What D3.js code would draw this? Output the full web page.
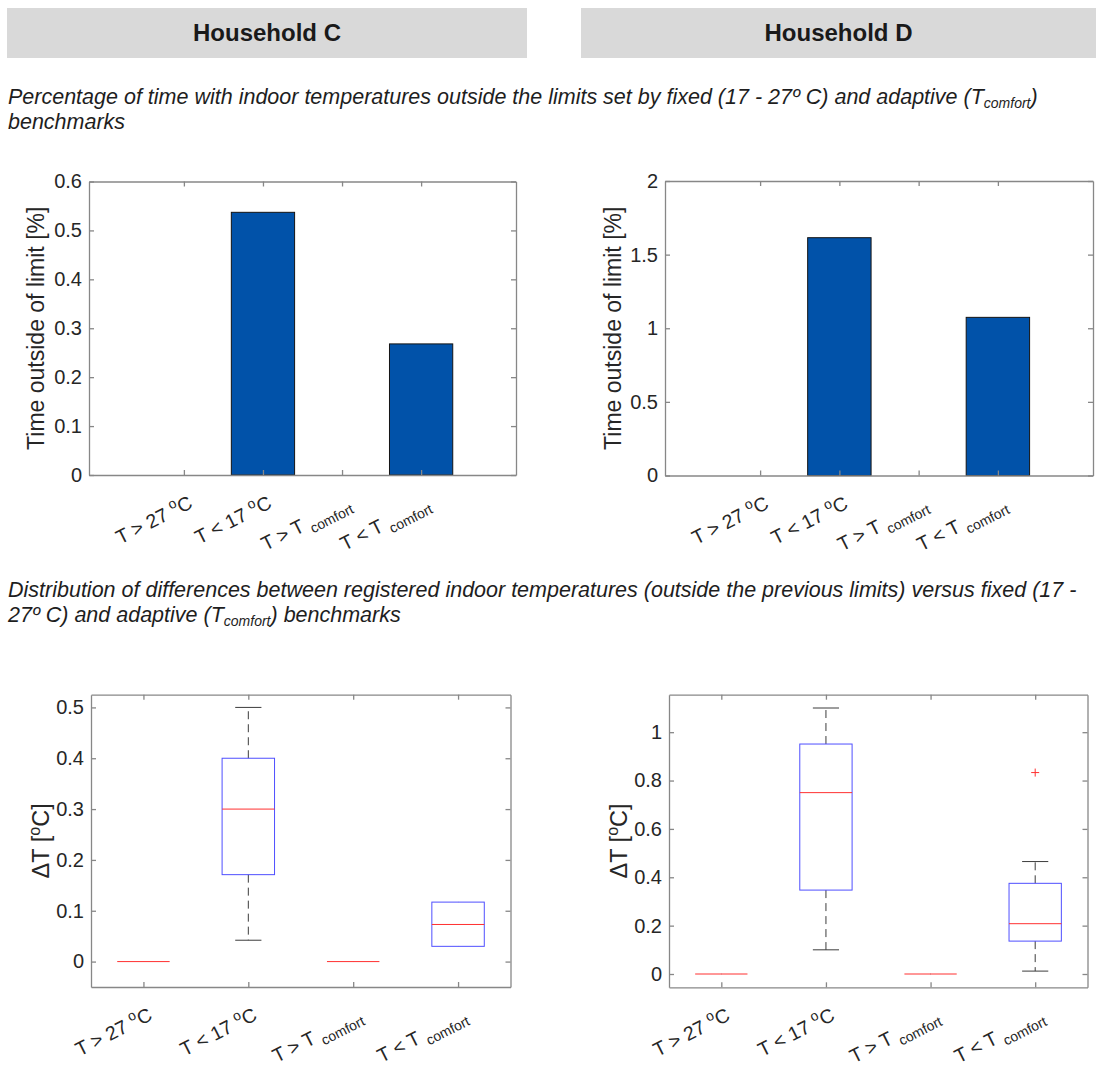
<!DOCTYPE html>
<html>
<head>
<meta charset="utf-8">
<script src="https://cdn.jsdelivr.net/npm/d3@7"></script>
<style>
  body { margin: 0; background: #fff; }
  svg { display: block; }
  text { font-family: "Liberation Sans", Arial, sans-serif; }
</style>
</head>
<body>
<svg id="fig" width="1096" height="1066"></svg>
<script>
// ---- categories (rich-text parts: sup = superscript, sub = subscript) ----
const categoryIds = [1, 2, 3, 4];
const categoryLabels = [
  [{ t: "T > 27 " }, { t: "o", s: "sup" }, { t: "C" }],
  [{ t: "T < 17 " }, { t: "o", s: "sup" }, { t: "C" }],
  [{ t: "T > T " }, { t: "comfort", s: "sub" }],
  [{ t: "T < T " }, { t: "comfort", s: "sub" }]
];

// ---- share of time outside the limits [%] ----
const timeOutsideC = [0, 0.537, 0, 0.268];
const timeOutsideD = [0, 1.615, 0, 1.074];
const barTicksC = [0, 0.1, 0.2, 0.3, 0.4, 0.5, 0.6];
const barTicksD = [0, 0.5, 1, 1.5, 2];

// ---- distribution of ΔT [°C]: box-plot statistics per category ----
const lowWhiskerC = [0, 0.042, 0, 0.030];
const q1C         = [0, 0.171, 0, 0.030];
const medianC     = [0, 0.300, 0, 0.073];
const q3C         = [0, 0.400, 0, 0.117];
const highWhiskerC = [0, 0.500, 0, 0.117];
const outliersC   = [[], [], [], []];

const lowWhiskerD = [0, 0.100, 0, 0.012];
const q1D         = [0, 0.347, 0, 0.136];
const medianD     = [0, 0.750, 0, 0.208];
const q3D         = [0, 0.951, 0, 0.375];
const highWhiskerD = [0, 1.100, 0, 0.465];
const outliersD   = [[], [], [], [0.833]];

const boxTicksC = [0, 0.1, 0.2, 0.3, 0.4, 0.5];
const boxTicksD = [0, 0.2, 0.4, 0.6, 0.8, 1];

// ---- headings and captions ----
const households = ["Household C", "Household D"];
const captionTop = [
  [{ t: "Percentage of time with indoor temperatures outside the limits set by fixed (17 - 27º C) and adaptive (T" }, { t: "comfort", s: "sub" }, { t: ")" }],
  [{ t: "benchmarks" }]
];
const captionBottom = [
  [{ t: "Distribution of differences between registered indoor temperatures (outside the previous limits) versus fixed (17 -" }],
  [{ t: "27º C) and adaptive (T" }, { t: "comfort", s: "sub" }, { t: ") benchmarks" }]
];
const barYLabel = [{ t: "Time outside of limit [%]" }];
const boxYLabel = [{ t: "ΔT [" }, { t: "o", s: "sup" }, { t: "C]" }];

const svg = d3.select("#fig");
const INK = "#262626";
const AXIS = "#878787";

// write rich text parts into a <text> element
function richText(sel, parts, small, shift) {
  let pending = 0;
  parts.forEach(p => {
    const ts = sel.append("tspan").text(p.t);
    if (p.s === "sup") {
      ts.attr("font-size", small).attr("dy", -shift.sup + pending);
      pending = shift.sup;
    } else if (p.s === "sub") {
      ts.attr("font-size", small).attr("dy", shift.sub + pending);
      pending = -shift.sub;
    } else {
      if (pending) ts.attr("dy", pending);
      pending = 0;
    }
  });
  return sel;
}

// ---- header bands ----
const bands = [{ x0: 7, x1: 527 }, { x0: 581, x1: 1096 }];
svg.selectAll("rect.band").data(households).join("rect")
  .attr("class", "band")
  .attr("x", (d, i) => bands[i].x0).attr("y", 8)
  .attr("width", (d, i) => bands[i].x1 - bands[i].x0).attr("height", 50)
  .attr("fill", "#d9d9d9");
svg.selectAll("text.head").data(households).join("text")
  .attr("class", "head")
  .attr("x", (d, i) => (bands[i].x0 + bands[i].x1) / 2).attr("y", 41)
  .attr("text-anchor", "middle").attr("font-weight", "bold")
  .attr("font-size", 24).attr("fill", "#1a1a1a")
  .text(d => d);

// ---- captions ----
function caption(lines, y0) {
  lines.forEach((parts, i) => {
    const t = svg.append("text")
      .attr("x", 8).attr("y", y0 + i * 25)
      .attr("font-size", 21.5).attr("font-style", "italic").attr("fill", "#1e1e1e");
    richText(t, parts, 14, { sup: 6, sub: 4 });
  });
}
caption(captionTop, 104);
caption(captionBottom, 597);

// ---- shared frame: box with inward ticks on all sides ----
function frame(g, x, y, yTicks, yLabelParts, yLabelX, yLabelSize) {
  const [xl, xr] = x.range();
  const [yb, yt] = y.range();
  const fmt = d3.format("~g");

  const styleAxis = a => {
    a.selectAll("path, line").attr("stroke", AXIS).attr("stroke-width", 1.3);
    a.selectAll("text").attr("fill", INK).attr("font-size", 20)
      .attr("font-family", "\"Liberation Sans\", Arial, sans-serif");
  };

  g.append("g").attr("transform", `translate(${xl},0)`)
    .call(d3.axisLeft(y).tickValues(yTicks).tickFormat(fmt).tickSize(-5).tickSizeOuter(0).tickPadding(7))
    .call(styleAxis);
  g.append("g").attr("transform", `translate(${xr},0)`)
    .call(d3.axisRight(y).tickValues(yTicks).tickFormat("").tickSize(-5).tickSizeOuter(0))
    .call(styleAxis);
  g.append("g").attr("transform", `translate(0,${yb})`)
    .call(d3.axisBottom(x).tickValues(categoryIds).tickFormat("").tickSize(-5).tickSizeOuter(0))
    .call(styleAxis);
  g.append("g").attr("transform", `translate(0,${yt})`)
    .call(d3.axisTop(x).tickValues(categoryIds).tickFormat("").tickSize(-5).tickSizeOuter(0))
    .call(styleAxis);

  // rotated category labels
  categoryIds.forEach((c, i) => {
    const t = g.append("text")
      .attr("transform", `translate(${x(c) + 10},${yb + 32}) rotate(-27)`)
      .attr("text-anchor", "end").attr("font-size", 19.5).attr("fill", INK);
    richText(t, categoryLabels[i], 14, { sup: 8, sub: 6 });
  });

  // y-axis title
  const ym = (yb + yt) / 2;
  const t = g.append("text")
    .attr("transform", `translate(${yLabelX},${ym}) rotate(-90)`)
    .attr("text-anchor", "middle").attr("dy", "0.36em")
    .attr("font-size", yLabelSize).attr("fill", INK);
  richText(t, yLabelParts, Math.round(yLabelSize * 0.68), { sup: 9, sub: 5 });
}

// ---- bar chart ----
function barChart(values, ticks, yMax, box, yLabelX) {
  const g = svg.append("g");
  const x = d3.scaleLinear().domain([-0.2, 5.2]).range([box.x0, box.x1]);
  const y = d3.scaleLinear().domain([0, yMax]).range([box.y0, box.y1]);
  g.selectAll("rect.bar").data(values).join("rect")
    .attr("class", "bar")
    .attr("x", (d, i) => x(categoryIds[i] - 0.4))
    .attr("width", (d, i) => x(categoryIds[i] + 0.4) - x(categoryIds[i] - 0.4))
    .attr("y", d => y(d))
    .attr("height", d => y(0) - y(d))
    .attr("fill", "#0152a9").attr("stroke", "#141414").attr("stroke-width", 1);
  frame(g, x, y, ticks, barYLabel, yLabelX, 23);
}

// ---- box plot ----
function boxPlot(low, q1, med, q3, high, outliers, ticks, yDomain, box, yLabelX) {
  const g = svg.append("g");
  const x = d3.scaleLinear().domain([0.5, 4.5]).range([box.x0, box.x1]);
  const y = d3.scaleLinear().domain(yDomain).range([box.y0, box.y1]);
  const stats = categoryIds.map((c, i) => ({
    c, low: low[i], q1: q1[i], med: med[i], q3: q3[i], high: high[i], out: outliers[i]
  }));
  const halfBox = 0.25, halfCap = 0.125;

  // dashed whiskers
  g.selectAll("line.wu").data(stats).join("line")
    .attr("x1", d => x(d.c)).attr("x2", d => x(d.c))
    .attr("y1", d => y(d.q3)).attr("y2", d => y(d.high))
    .attr("stroke", "#3c3c3c").attr("stroke-width", 1).attr("stroke-dasharray", "8,5");
  g.selectAll("line.wl").data(stats).join("line")
    .attr("x1", d => x(d.c)).attr("x2", d => x(d.c))
    .attr("y1", d => y(d.q1)).attr("y2", d => y(d.low))
    .attr("stroke", "#3c3c3c").attr("stroke-width", 1).attr("stroke-dasharray", "8,5");
  // whisker caps (only where the whisker reaches past the box)
  g.selectAll("line.cap-high").data(stats.filter(d => d.high > d.q3)).join("line")
    .attr("x1", d => x(d.c - halfCap)).attr("x2", d => x(d.c + halfCap))
    .attr("y1", d => y(d.high)).attr("y2", d => y(d.high))
    .attr("stroke", "#3c3c3c").attr("stroke-width", 1);
  g.selectAll("line.cap-low").data(stats.filter(d => d.low < d.q1)).join("line")
    .attr("x1", d => x(d.c - halfCap)).attr("x2", d => x(d.c + halfCap))
    .attr("y1", d => y(d.low)).attr("y2", d => y(d.low))
    .attr("stroke", "#3c3c3c").attr("stroke-width", 1);
  // boxes
  g.selectAll("rect.iqr").data(stats).join("rect")
    .attr("x", d => x(d.c - halfBox)).attr("width", d => x(d.c + halfBox) - x(d.c - halfBox))
    .attr("y", d => y(d.q3)).attr("height", d => y(d.q1) - y(d.q3))
    .attr("fill", "none").attr("stroke", "#4f4fff").attr("stroke-width", 1);
  // medians
  g.selectAll("line.med").data(stats).join("line")
    .attr("x1", d => x(d.c - halfBox)).attr("x2", d => x(d.c + halfBox))
    .attr("y1", d => y(d.med)).attr("y2", d => y(d.med))
    .attr("stroke", "#ff3030").attr("stroke-width", 1);
  // outliers as red plus markers
  const outs = stats.flatMap(d => d.out.map(v => ({ c: d.c, v })));
  g.selectAll("path.out").data(outs).join("path")
    .attr("d", d => `M${x(d.c) - 4},${y(d.v)}h8M${x(d.c)},${y(d.v) - 4}v8`)
    .attr("stroke", "#ff3030").attr("stroke-width", 1).attr("fill", "none");

  frame(g, x, y, ticks, boxYLabel, yLabelX, 23.5);
}

barChart(timeOutsideC, barTicksC, 0.6, { x0: 89, x1: 516, y0: 475, y1: 181.5 }, 36);
barChart(timeOutsideD, barTicksD, 2, { x0: 665, x1: 1093, y0: 475.5, y1: 181 }, 613);

boxPlot(lowWhiskerC, q1C, medianC, q3C, highWhiskerC, outliersC, boxTicksC,
  [-0.05, 0.525], { x0: 91, x1: 510.5, y0: 987, y1: 694.7 }, 41);
boxPlot(lowWhiskerD, q1D, medianD, q3D, highWhiskerD, outliersD, boxTicksD,
  [-0.055, 1.155], { x0: 669, x1: 1087.5, y0: 987.3, y1: 694.7 }, 619);
</script>
</body>
</html>
